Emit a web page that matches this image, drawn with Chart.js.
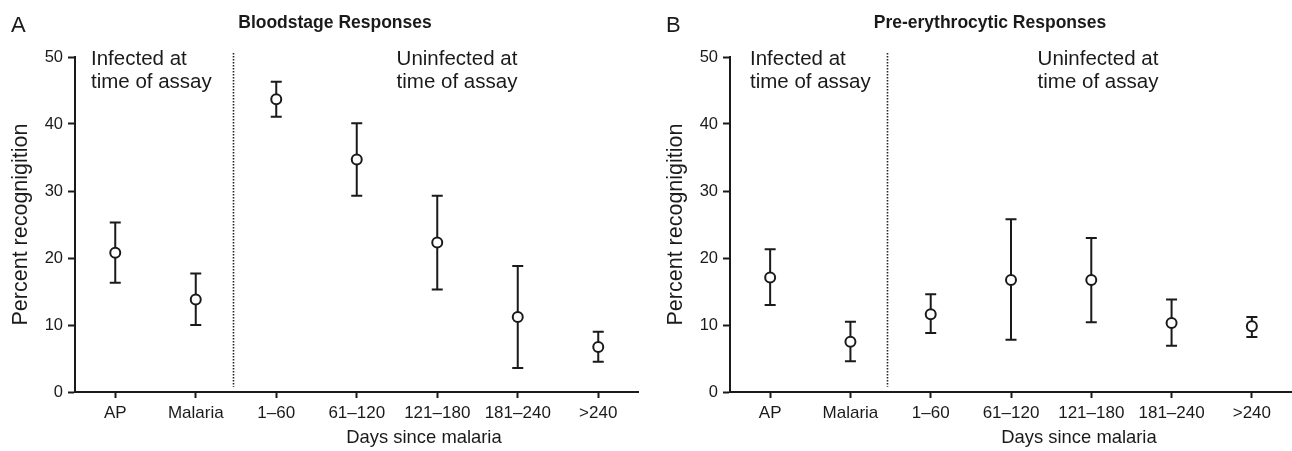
<!DOCTYPE html>
<html>
<head>
<meta charset="utf-8">
<script src="https://cdn.jsdelivr.net/npm/chart.js@4.4.1/dist/chart.umd.min.js"></script>
<style>
  html, body { margin: 0; padding: 0; background: #fff; }
  #wrap { display: flex; width: 1292px; height: 451px; }
  .panel { position: relative; width: 646px; height: 451px; }
</style>
</head>
<body>
<div id="wrap">
  <div class="panel"><canvas id="chartA"></canvas></div>
  <div class="panel"><canvas id="chartB"></canvas></div>
</div>
<script>
// categories and values
const categories = ['AP', 'Malaria', '1–60', '61–120', '121–180', '181–240', '>240'];

const bloodMean  = [20.8, 13.8, 43.7, 34.7, 22.3, 11.2, 6.7];
const bloodUpper = [25.3, 17.7, 46.3, 40.1, 29.3, 18.8, 9.0];
const bloodLower = [16.3, 10.0, 41.1, 29.3, 15.3, 3.6, 4.5];

const preMean  = [17.1, 7.5, 11.6, 16.7, 16.7, 10.3, 9.8];
const preUpper = [21.3, 10.5, 14.6, 25.8, 23.0, 13.8, 11.2];
const preLower = [13.0, 4.6, 8.8, 7.8, 10.4, 6.9, 8.2];

const yMin = 0, yMax = 50, yStep = 10;

const FONT = '"Liberation Sans", Arial, Helvetica, sans-serif';
const INK = '#1a1a1a';

// draws error bars, divider, annotations and titles
const panelDecor = {
  id: 'panelDecor',
  beforeDatasetsDraw(chart) {
    const { ctx, scales: { x, y } } = chart;
    const ds = chart.data.datasets[0];
    ctx.save();
    ctx.strokeStyle = INK;
    ctx.lineWidth = 2;
    ds.data.forEach((v, i) => {
      const px = x.getPixelForValue(i);
      const yt = y.getPixelForValue(ds.errUpper[i]);
      const yb = y.getPixelForValue(ds.errLower[i]);
      ctx.beginPath();
      ctx.moveTo(px, yt); ctx.lineTo(px, yb);
      ctx.moveTo(px - 5.5, yt); ctx.lineTo(px + 5.5, yt);
      ctx.moveTo(px - 5.5, yb); ctx.lineTo(px + 5.5, yb);
      ctx.stroke();
    });
    ctx.restore();
  },
  afterDraw(chart, args, opts) {
    const { ctx, chartArea, scales: { x, y } } = chart;
    const L = chartArea.left;
    ctx.save();

    // dotted divider between infected / uninfected groups
    const dx = Math.round(x.getPixelForValue(1.46)) + 0.5;
    ctx.strokeStyle = '#222';
    ctx.lineWidth = 1.6;
    ctx.setLineDash([1.5, 1.5]);
    ctx.beginPath();
    ctx.moveTo(dx, y.getPixelForValue(50.6));
    ctx.lineTo(dx, y.getPixelForValue(0.8));
    ctx.stroke();
    ctx.setLineDash([]);

    ctx.fillStyle = INK;
    ctx.textBaseline = 'alphabetic';

    // group annotations
    ctx.font = '20.5px ' + FONT;
    ctx.textAlign = 'left';
    ctx.fillText('Infected at', L + opts.infX, 65);
    ctx.fillText('time of assay', L + opts.infX, 88);
    ctx.textAlign = 'center';
    ctx.fillText('Uninfected at', L + opts.uninfX, 65);
    ctx.fillText('time of assay', L + opts.uninfX, 88);

    // panel letter + title
    ctx.font = '22px ' + FONT;
    ctx.textAlign = 'left';
    ctx.fillText(opts.letter, L - 64, 32);
    ctx.font = 'bold 17.5px ' + FONT;
    ctx.textAlign = 'center';
    ctx.fillText(opts.title, L + 260, 28);

    // x axis title
    ctx.font = '18.4px ' + FONT;
    ctx.fillText('Days since malaria', L + 349, 443);

    // y axis title
    ctx.save();
    ctx.translate(L - 48, (chartArea.top + chartArea.bottom) / 2);
    ctx.rotate(-Math.PI / 2);
    ctx.font = '21.5px ' + FONT;
    ctx.textAlign = 'center';
    ctx.fillText('Percent recognigition', 0, 0);
    ctx.restore();

    ctx.restore();
  }
};

function makePanel(id, mean, upper, lower, decor, axisLeft, padRight) {
  const ctx = document.getElementById(id).getContext('2d');
  return new Chart(ctx, {
    type: 'line',
    data: {
      labels: categories,
      datasets: [{
        data: mean,
        errUpper: upper,
        errLower: lower,
        showLine: false,
        pointRadius: 5,
        pointHoverRadius: 5,
        pointBorderWidth: 2,
        pointBackgroundColor: '#fff',
        pointBorderColor: INK,
        borderColor: INK
      }]
    },
    options: {
      responsive: true,
      maintainAspectRatio: false,
      animation: false,
      layout: { autoPadding: false, padding: { left: 0, right: padRight, top: 57, bottom: 0 } },
      plugins: {
        legend: { display: false },
        tooltip: { enabled: false },
        panelDecor: decor
      },
      scales: {
        x: {
          type: 'category',
          offset: true,
          afterFit(scale) {
            scale.height = 59;
            scale.paddingLeft = 0;
            scale.paddingRight = 0;
          },
          border: { display: true, color: INK, width: 2 },
          grid: { display: true, offset: false, drawOnChartArea: false, tickLength: 6, tickWidth: 2, tickColor: INK },
          ticks: { color: INK, padding: 5, maxRotation: 0, autoSkip: false, font: { family: FONT, size: 17 } }
        },
        y: {
          min: yMin,
          max: yMax,
          afterFit(scale) { scale.width = axisLeft; },
          border: { display: true, color: INK, width: 2 },
          grid: { display: true, drawOnChartArea: false, tickLength: 7, tickWidth: 2, tickColor: INK },
          ticks: { stepSize: yStep, color: INK, padding: 5, font: { family: FONT, size: 16.5 } }
        }
      }
    },
    plugins: [panelDecor]
  });
}

makePanel('chartA', bloodMean, bloodUpper, bloodLower,
  { letter: 'A', title: 'Bloodstage Responses', infX: 16, uninfX: 382 }, 75, 7.5);
makePanel('chartB', preMean, preUpper, preLower,
  { letter: 'B', title: 'Pre-erythrocytic Responses', infX: 20, uninfX: 368 }, 84, 0);
</script>
</body>
</html>
